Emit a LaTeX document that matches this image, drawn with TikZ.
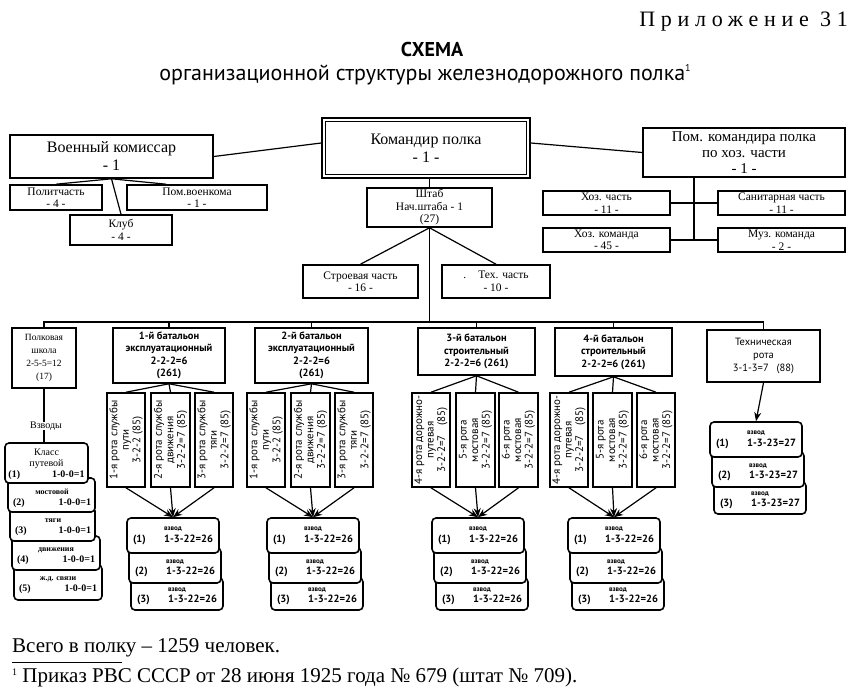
\documentclass[tikz,border=0pt]{standalone}
\usepackage{fontspec}
\setmainfont{Liberation Serif}
\newfontfamily\sans{PT Sans}
\newfontfamily\spaced[LetterSpace=26]{Liberation Serif}
\usetikzlibrary{arrows.meta}

\newcommand\bx[7][]{\node[box,#1,minimum width={((#5)-(#3))*1pt},minimum height={((#6)-(#4))*1pt}] (#2) at ({((#3)+(#5))/2},{((#4)+(#6))/2}) {#7};}
\newcommand\rbx[6]{\node[rota,minimum width={((#5)-(#3))*1pt},minimum height={((#4)-(#2))*1pt}] (#1) at ({((#2)+(#4))/2},{((#3)+(#5))/2}) {#6};}
\newcommand\vzlab{{\fontsize{7}{8}\selectfont взвод}}
\newcommand\supone[2]{\raisebox{#2}{\fontsize{#1}{#1}\selectfont 1}}
\newcommand\vzs[4]{%
 \bx[vz]{#1c}{#2+4}{#3+60}{#2+96}{#3+92}{}
 \node[vzt] (#1ct) at ({#2+50},{#3+78.5}) {\vzlab\\\makebox[80pt]{(3)\hfill #4}};
 \bx[vz]{#1b}{#2+2}{#3+30}{#2+94}{#3+65}{}
 \node[vzt] (#1bt) at ({#2+48},{#3+50}) {\vzlab\\\makebox[80pt]{(2)\hfill #4}};
 \bx[vz]{#1a}{#2}{#3}{#2+92}{#3+35}{}
 \node[vzt] (#1at) at ({#2+46},{#3+17.5}) {\vzlab\\[1pt]\makebox[80pt]{(1)\hfill #4}};
}

\begin{document}
\begin{tikzpicture}[x=1pt,y=-1pt,
 box/.style={draw,line width=1.6pt,fill=white,inner sep=0pt,align=center},
 big/.style={font=\fontsize{16}{18}\selectfont},
 small/.style={font=\fontsize{11.5}{12.5}\selectfont},
 bat/.style={font=\sans\bfseries\fontsize{10.5}{12.5}\selectfont},
 rota/.style={box,rotate=90,font=\sans\fontsize{11}{11.5}\selectfont},
 vz/.style={box,rounded corners=4pt},
 vzt/.style={inner sep=0pt,align=center,font=\sans\bfseries\fontsize{10.5}{11}\selectfont},
 kl/.style={box,rounded corners=4pt},
 klt/.style={inner sep=0pt,align=center,font=\bfseries\fontsize{10}{11}\selectfont},
 link/.style={line width=1.2pt},
 arr/.style={line width=1.2pt,-{Stealth[length=9pt,width=7pt]}},
 txt/.style={inner sep=0pt}]
\useasboundingbox (0,0) rectangle (850,687);

% headings
\node[txt,anchor=east,font=\spaced\fontsize{22}{24}\selectfont] (app) at (848,22) {Приложение 31};
\node[txt,font=\sans\bfseries\fontsize{20}{22}\selectfont] (ttl) at (432,50) {СХЕМА};
\node[txt,font=\sans\fontsize{22}{24}\selectfont] (sub) at (425,75) {организационной структуры железнодорожного полка\supone{10}{9pt}};

% top level
\bx[big]{kp}{322}{118}{530}{178}{Командир полка\\- 1 -}
\draw[line width=0.7pt] ([shift={(4pt,-4pt)}]kp.north west) rectangle ([shift={(-4pt,4pt)}]kp.south east);
\bx[big]{vk}{10}{135}{213}{178}{Военный комиссар\\- 1}
\bx[small]{pol}{10}{185}{102}{210}{Политчасть\\- 4 -}
\bx[small]{pvk}{127}{185}{267}{210}{Пом.военкома\\- 1 -}
\bx[small]{klub}{70}{215}{172}{245}{Клуб\\- 4 -}
\bx[font=\fontsize{15}{16}\selectfont]{pk}{643}{128}{845}{177}{Пом. командира полка\\по хоз. части\\- 1 -}
\bx[small]{hz}{543}{191}{670}{215}{Хоз. часть\\- 11 -}
\bx[small]{sc}{718}{191}{845}{215}{Санитарная часть\\- 11 -}
\bx[small]{hk}{543}{228}{670}{252}{Хоз. команда\\- 45 -}
\bx[small]{mk}{718}{228}{845}{252}{Муз. команда\\- 2 -}
\bx[small]{st}{367}{188}{492}{227}{Штаб\\Нач.штаба - 1\\(27)}
\bx[small]{sv}{303}{265}{418}{298}{Строевая часть\\- 16 -}
\bx[small]{tx}{442}{265}{550}{298}{.\hspace{12pt}Тех. часть\\- 10 -}

\draw[link] (vk.east) -- ([yshift=5pt]kp.west);
\draw[link] ([yshift=5pt]kp.east) -- (pk.west);
\draw[link] (vk.south) -- (pol.north);
\draw[link] (vk.south) -- ([xshift=40pt]pvk.north west);
\draw[link] (vk.south) -- (klub.north);
\coordinate (jx) at (694,240);
\draw[link] (hz.east) -- (sc.west);
\draw[link] (hk.east) -- (mk.west);
\draw[link] (pk.south -| jx) -- (jx);
\draw[link] (st.north |- kp.south) -- (st.north);
\draw[link] (st.south) -- (sv.north);
\draw[link] (st.south) -- (tx.north);

% second level
\bx[font=\fontsize{9.5}{13}\selectfont]{sch}{12}{328}{76}{388}{Полковая\\школа\\2-5-5=12\\(17)}
\bx[bat]{b1}{113}{328}{225}{383}{1-й батальон\\эксплуатационный\\2-2-2=6\\(261)}
\bx[bat]{b2}{255}{328}{368}{383}{2-й батальон\\эксплуатационный\\2-2-2=6\\(261)}
\bx[bat]{b3}{418}{328}{535}{375}{3-й батальон\\строительный\\2-2-2=6 (261)}
\bx[bat]{b4}{555}{328}{672}{376}{4-й батальон\\строительный\\2-2-2=6 (261)}
\bx[font=\sans\fontsize{10.5}{13}\selectfont]{tr}{707}{330}{820}{382}{Техническая\\рота\\3-1-3=7\hspace{8pt}(88)}

\coordinate (busL) at (44,322);
\draw[link] (st.south) -- (st.south |- busL);
\draw[link] (sch.north) -- (sch.north |- busL) -- (tr.north |- busL) -- (tr.north);
\foreach \b in {b1,b2,b3,b4} \draw[link] (\b.north) -- (\b.north |- busL);

% companies
\rbx{r11}{107}{393}{145}{487}{1-я рота службы\\пути\\3-2-2 (85)}
\rbx{r12}{151}{393}{190}{487}{2-я рота службы\\движения\\3-2-2=7 (85)}
\rbx{r13}{195}{393}{233}{487}{3-я рота службы\\тяги\\3-2-2=7 (85)}
\rbx{r21}{247}{393}{285}{487}{1-я рота службы\\пути\\3-2-2 (85)}
\rbx{r22}{291}{393}{330}{487}{2-я рота службы\\движения\\3-2-2=7 (85)}
\rbx{r23}{335}{393}{373}{487}{3-я рота службы\\тяги\\3-2-2=7 (85)}
\rbx{r31}{412}{393}{450}{487}{4-я рота дорожно-\\путевая\\3-2-2=7\hspace{10pt}(85)}
\rbx{r32}{456}{393}{495}{487}{5-я рота\\мостовая\\3-2-2=7 (85)}
\rbx{r33}{499}{393}{538}{487}{6-я рота\\мостовая\\3-2-2=7 (85)}
\rbx{r41}{550}{393}{588}{487}{4-я рота дорожно-\\путевая\\3-2-2=7\hspace{10pt}(85)}
\rbx{r42}{593}{393}{632}{487}{5-я рота\\мостовая\\3-2-2=7 (85)}
\rbx{r43}{637}{393}{675}{487}{6-я рота\\мостовая\\3-2-2=7 (85)}

% platoons
\vzs{v1}{127}{518}{1-3-22=26}
\vzs{v2}{267}{518}{1-3-22=26}
\vzs{v3}{432}{518}{1-3-22=26}
\vzs{v4}{568}{518}{1-3-22=26}
\vzs{vt}{710}{422}{1-3-23=27}

\foreach \n in {1,2,3,4}{
 \foreach \r in {1,2,3}{
  \draw[link] (b\n.south) -- (r\n\r.east);
  \draw[arr] (r\n\r.west) -- (v\n a.north);
 }
}
\draw[arr] (tr.south) -- (vta.north);

% school classes
\bx[kl]{k5}{14}{565}{102}{600}{}
\node[klt] (k5t) at (58,585) {{\fontsize{8}{9}\selectfont ж.д. связи}\\\makebox[78pt]{(5)\hfill 1-0-0=1}};
\bx[kl]{k4}{12}{536}{100}{570}{}
\node[klt] (k4t) at (56,556) {{\fontsize{8}{9}\selectfont движения}\\\makebox[78pt]{(4)\hfill 1-0-0=1}};
\bx[kl]{k3}{10}{507}{95}{541}{}
\node[klt] (k3t) at (53,527) {{\fontsize{8}{9}\selectfont тяги}\\\makebox[76pt]{(3)\hfill 1-0-0=1}};
\bx[kl]{k2}{8}{478}{95}{512}{}
\node[klt] (k2t) at (52,498) {{\fontsize{8}{9}\selectfont мостовой}\\\makebox[78pt]{(2)\hfill 1-0-0=1}};
\bx[kl]{k1}{5}{443}{88}{483}{}
\node[klt] (k1t) at (46.5,464) {{\mdseries Класс}\\{\mdseries путевой}\\\makebox[76pt]{(1)\hfill 1-0-0=1}};

\node[txt,font=\fontsize{10}{11}\selectfont] (vzv) at (46,426) {Взводы};
\draw[link] (sch.south) -- (sch.south |- vzv.north);
\draw[link] (vzv.south -| sch.south) -- (sch.south |- k1.north);

% bottom text
\node[txt,anchor=west,font=\fontsize{21}{23}\selectfont] (tot) at (12,648) {Всего в полку -- 1259 человек.};
\draw[line width=0.6pt] (12,662) -- (122,662);
\node[txt,anchor=west,font=\fontsize{21}{23}\selectfont] (fn) at (12,677) {\supone{10}{7pt} Приказ РВС СССР от 28 июня 1925 года № 679 (штат № 709).};
\end{tikzpicture}
\end{document}
